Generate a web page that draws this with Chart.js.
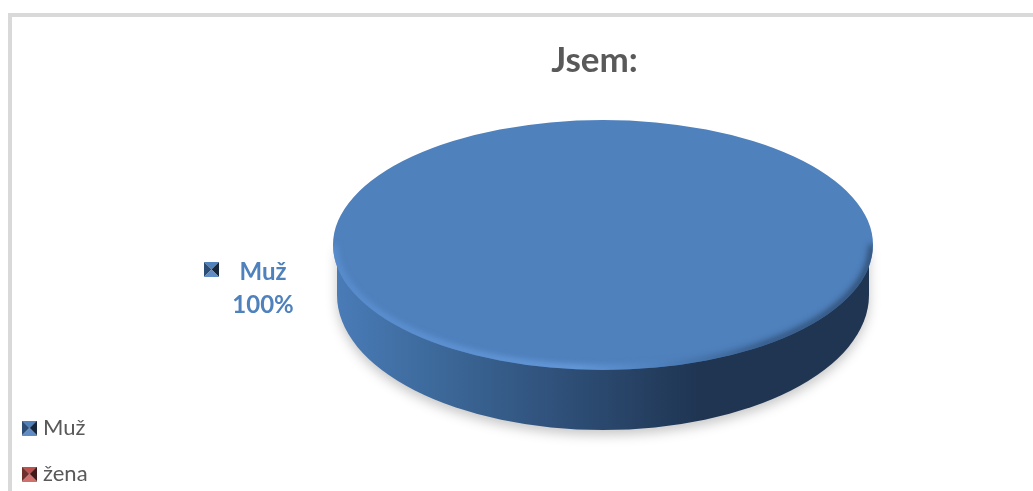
<!DOCTYPE html>
<html>
<head>
<meta charset="utf-8">
<style>
  html, body { margin: 0; padding: 0; background: #fff; overflow: hidden; }
  #frame { position: absolute; left: 8px; top: 13px; width: 1025px; height: 478px; box-sizing: border-box;
           border-left: 4px solid #d9d9d9; border-top: 4px solid #d9d9d9; }
  canvas { position: absolute; left: 0; top: 0; }
</style>
<script src="https://cdn.jsdelivr.net/npm/chart.js@4"></script>
</head>
<body>
<div id="frame"></div>
<canvas id="chart" width="1033" height="491"></canvas>
<script>
const titleText = 'Jsem:';
const categories = ['Muž', 'žena'];
const values = [100, 0];
const colors = ['#4f81bd', '#c0504d'];
const darkColors = ['#2c4d75', '#6f2f2d'];
const deepColors = ['#16263b', '#3f1a19'];
const lightColors = ['#5f8cc4', '#d0706c'];

// little four-sided bevelled marker, like the office legend keys
function makeKey(i) {
    const c = document.createElement('canvas');
    c.width = 15;
    c.height = 15;
    const g = c.getContext('2d');
    const tri = (a, b, d, e, fill) => {
        g.fillStyle = fill;
        g.beginPath();
        g.moveTo(a, b);
        g.lineTo(d, e);
        g.lineTo(7.5, 7.5);
        g.closePath();
        g.fill();
    };
    tri(0, 0, 15, 0, colors[i]);
    tri(0, 0, 0, 15, darkColors[i]);
    tri(15, 0, 15, 15, deepColors[i]);
    tri(0, 15, 15, 15, lightColors[i]);
    return c;
}
const keys = categories.map((_, i) => makeKey(i));

// where the flattened pie sits on the page
const disc = { x: 603, y: 245, stretch: 2.16, depth: 50, wallRy: 135 };

const place = {
    id: 'place',
    afterLayout(chart) {
        chart.titleBlock.left = 156;
        chart.legend.left += 3;
        chart.legend.top += 18;
        chart.legend.bottom += 18;
    }
};

const pie3d = {
    id: 'pie3d',
    beforeDatasetsDraw(chart) {
        const ctx = chart.ctx;
        const arc = chart.getDatasetMeta(0).data[0];
        const ry = arc.outerRadius;
        const rx = ry * disc.stretch;

        const wall = () => {
            ctx.beginPath();
            ctx.ellipse(disc.x, disc.y + disc.depth, rx - 4, disc.wallRy, 0, 0, Math.PI);
            ctx.lineTo(disc.x - rx + 4, disc.y);
            ctx.lineTo(disc.x + rx - 4, disc.y);
            ctx.closePath();
        };

        const side = ctx.createLinearGradient(disc.x - rx, 0, disc.x + rx, 0);
        side.addColorStop(0, '#4a7cb8');
        side.addColorStop(0.2, '#3c6899');
        side.addColorStop(0.42, '#2f5079');
        side.addColorStop(0.68, '#1f3552');
        side.addColorStop(1, '#1f3552');

        ctx.save();
        ctx.shadowColor = 'rgba(0,0,0,0.22)';
        ctx.shadowBlur = 12;
        ctx.shadowOffsetY = 5;
        ctx.fillStyle = side;
        wall();
        ctx.fill();
        ctx.restore();

        // squash the library's round pie into the top face
        ctx.save();
        ctx.translate(disc.x, disc.y);
        ctx.scale(disc.stretch, 1);
        ctx.translate(-arc.x, -arc.y);
    },
    afterDatasetsDraw(chart) {
        const ctx = chart.ctx;
        ctx.restore();

        const arc = chart.getDatasetMeta(0).data[0];
        const ry = arc.outerRadius;
        const rx = ry * disc.stretch;

        // soft rim on the front edge of the top face
        const rim = ctx.createLinearGradient(disc.x - rx, 0, disc.x + rx, 0);
        rim.addColorStop(0, '#5b90d2');
        rim.addColorStop(0.45, '#6ba0e2');
        rim.addColorStop(0.6, '#4f81bd');
        rim.addColorStop(0.8, '#2f5079');
        rim.addColorStop(1, '#2a4668');

        ctx.save();
        ctx.beginPath();
        ctx.ellipse(disc.x, disc.y, rx, ry, 0, 0, Math.PI * 2);
        ctx.clip();
        ctx.filter = 'blur(3px)';
        ctx.strokeStyle = rim;
        ctx.lineWidth = 6;
        ctx.beginPath();
        ctx.ellipse(disc.x, disc.y, rx - 1, ry - 1, 0, 0, Math.PI);
        ctx.stroke();
        ctx.restore();
    },
    afterDraw(chart) {
        const ctx = chart.ctx;
        const total = values.reduce((a, b) => a + b, 0);
        ctx.save();
        ctx.drawImage(keys[0], 204, 262);
        ctx.fillStyle = colors[0];
        ctx.font = 'bold 24px Lato';
        ctx.textAlign = 'center';
        ctx.textBaseline = 'middle';
        ctx.fillText(categories[0], 263, 272);
        ctx.fillText(Math.round(values[0] / total * 100) + '%', 263, 305);
        ctx.restore();
    }
};

new Chart(document.getElementById('chart'), {
    type: 'pie',
    data: {
        labels: categories,
        datasets: [{
            data: values,
            backgroundColor: colors,
            borderWidth: 0
        }]
    },
    options: {
        responsive: false,
        animation: false,
        radius: 125,
        plugins: {
            title: {
                display: true,
                text: titleText,
                color: '#595959',
                font: { family: 'Lato', size: 35, weight: 'bold' },
                padding: { top: 40, bottom: 10 }
            },
            legend: {
                position: 'left',
                align: 'end',
                labels: {
                    usePointStyle: true,
                    boxWidth: 5,
                    boxHeight: 5,
                    padding: 24,
                    color: '#595959',
                    font: { family: 'Lato', size: 22 },
                    generateLabels(chart) {
                        const items = Chart.overrides.pie.plugins.legend.labels.generateLabels(chart);
                        items.forEach((it, i) => { it.pointStyle = keys[i]; });
                        return items;
                    }
                }
            },
            tooltip: { enabled: false }
        }
    },
    plugins: [place, pie3d]
});
</script>
</body>
</html>
